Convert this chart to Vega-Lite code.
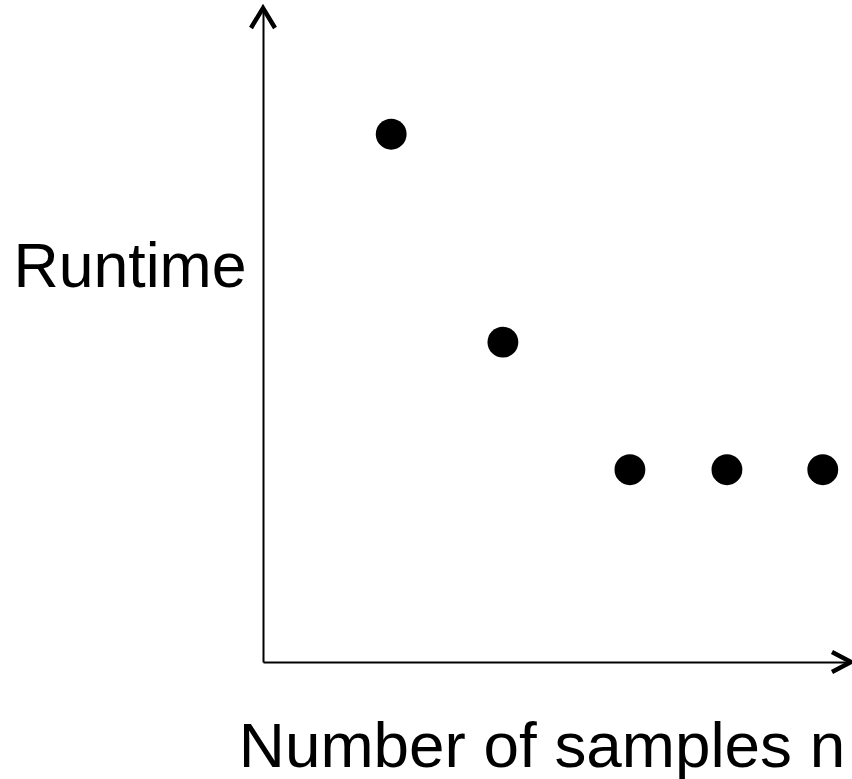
{
  "$schema": "https://vega.github.io/schema/vega-lite/v6.json",
  "autosize": "none",
  "width": 588,
  "height": 654,
  "padding": {"left": 263, "top": 8, "right": 1, "bottom": 117},
  "background": "white",
  "config": {
    "view": {"stroke": null},
    "axis": {
      "grid": false,
      "ticks": false,
      "labels": false,
      "domainColor": "black",
      "domainWidth": 2,
      "titleFont": "Liberation Sans",
      "titleFontWeight": "normal",
      "titleColor": "black"
    }
  },
  "layer": [
    {
      "data": {"values": [
        {"n": 2.18, "runtime": 8.07},
        {"n": 4.08, "runtime": 4.89},
        {"n": 6.24, "runtime": 2.94},
        {"n": 7.89, "runtime": 2.94},
        {"n": 9.52, "runtime": 2.94}
      ]},
      "mark": {"type": "point", "shape": "circle", "filled": true, "color": "black", "opacity": 1, "size": 950},
      "encoding": {
        "x": {"field": "n", "type": "quantitative", "scale": {"domain": [0, 10], "nice": false},
          "axis": {"title": "Number of samples n", "titleFontSize": 63.8, "titleAlign": "center", "titleBaseline": "alphabetic", "titleX": 278.5, "titleY": 104.7}},
        "y": {"field": "runtime", "type": "quantitative", "scale": {"domain": [0, 10], "nice": false},
          "axis": {"title": "Runtime", "titleFontSize": 62.6, "titleAngle": 0, "titleAlign": "center", "titleBaseline": "alphabetic", "titleX": -133.5, "titleY": 278.7}}
      }
    },
    {
      "data": {"values": [{"n": 0, "runtime": 10}]},
      "mark": {"type": "point", "shape": "M-0.6,1L0,0L0.6,1", "filled": false, "stroke": "black", "strokeWidth": 4.5, "opacity": 1, "size": 1600, "strokeJoin": "miter"},
      "encoding": {
        "x": {"field": "n", "type": "quantitative"},
        "y": {"field": "runtime", "type": "quantitative"}
      }
    },
    {
      "data": {"values": [{"n": 10, "runtime": 0}]},
      "mark": {"type": "point", "shape": "M-0.95,-0.5L0,0L-0.95,0.5", "filled": false, "stroke": "black", "strokeWidth": 4.5, "opacity": 1, "size": 1600, "strokeJoin": "miter"},
      "encoding": {
        "x": {"field": "n", "type": "quantitative"},
        "y": {"field": "runtime", "type": "quantitative"}
      }
    }
  ]
}
